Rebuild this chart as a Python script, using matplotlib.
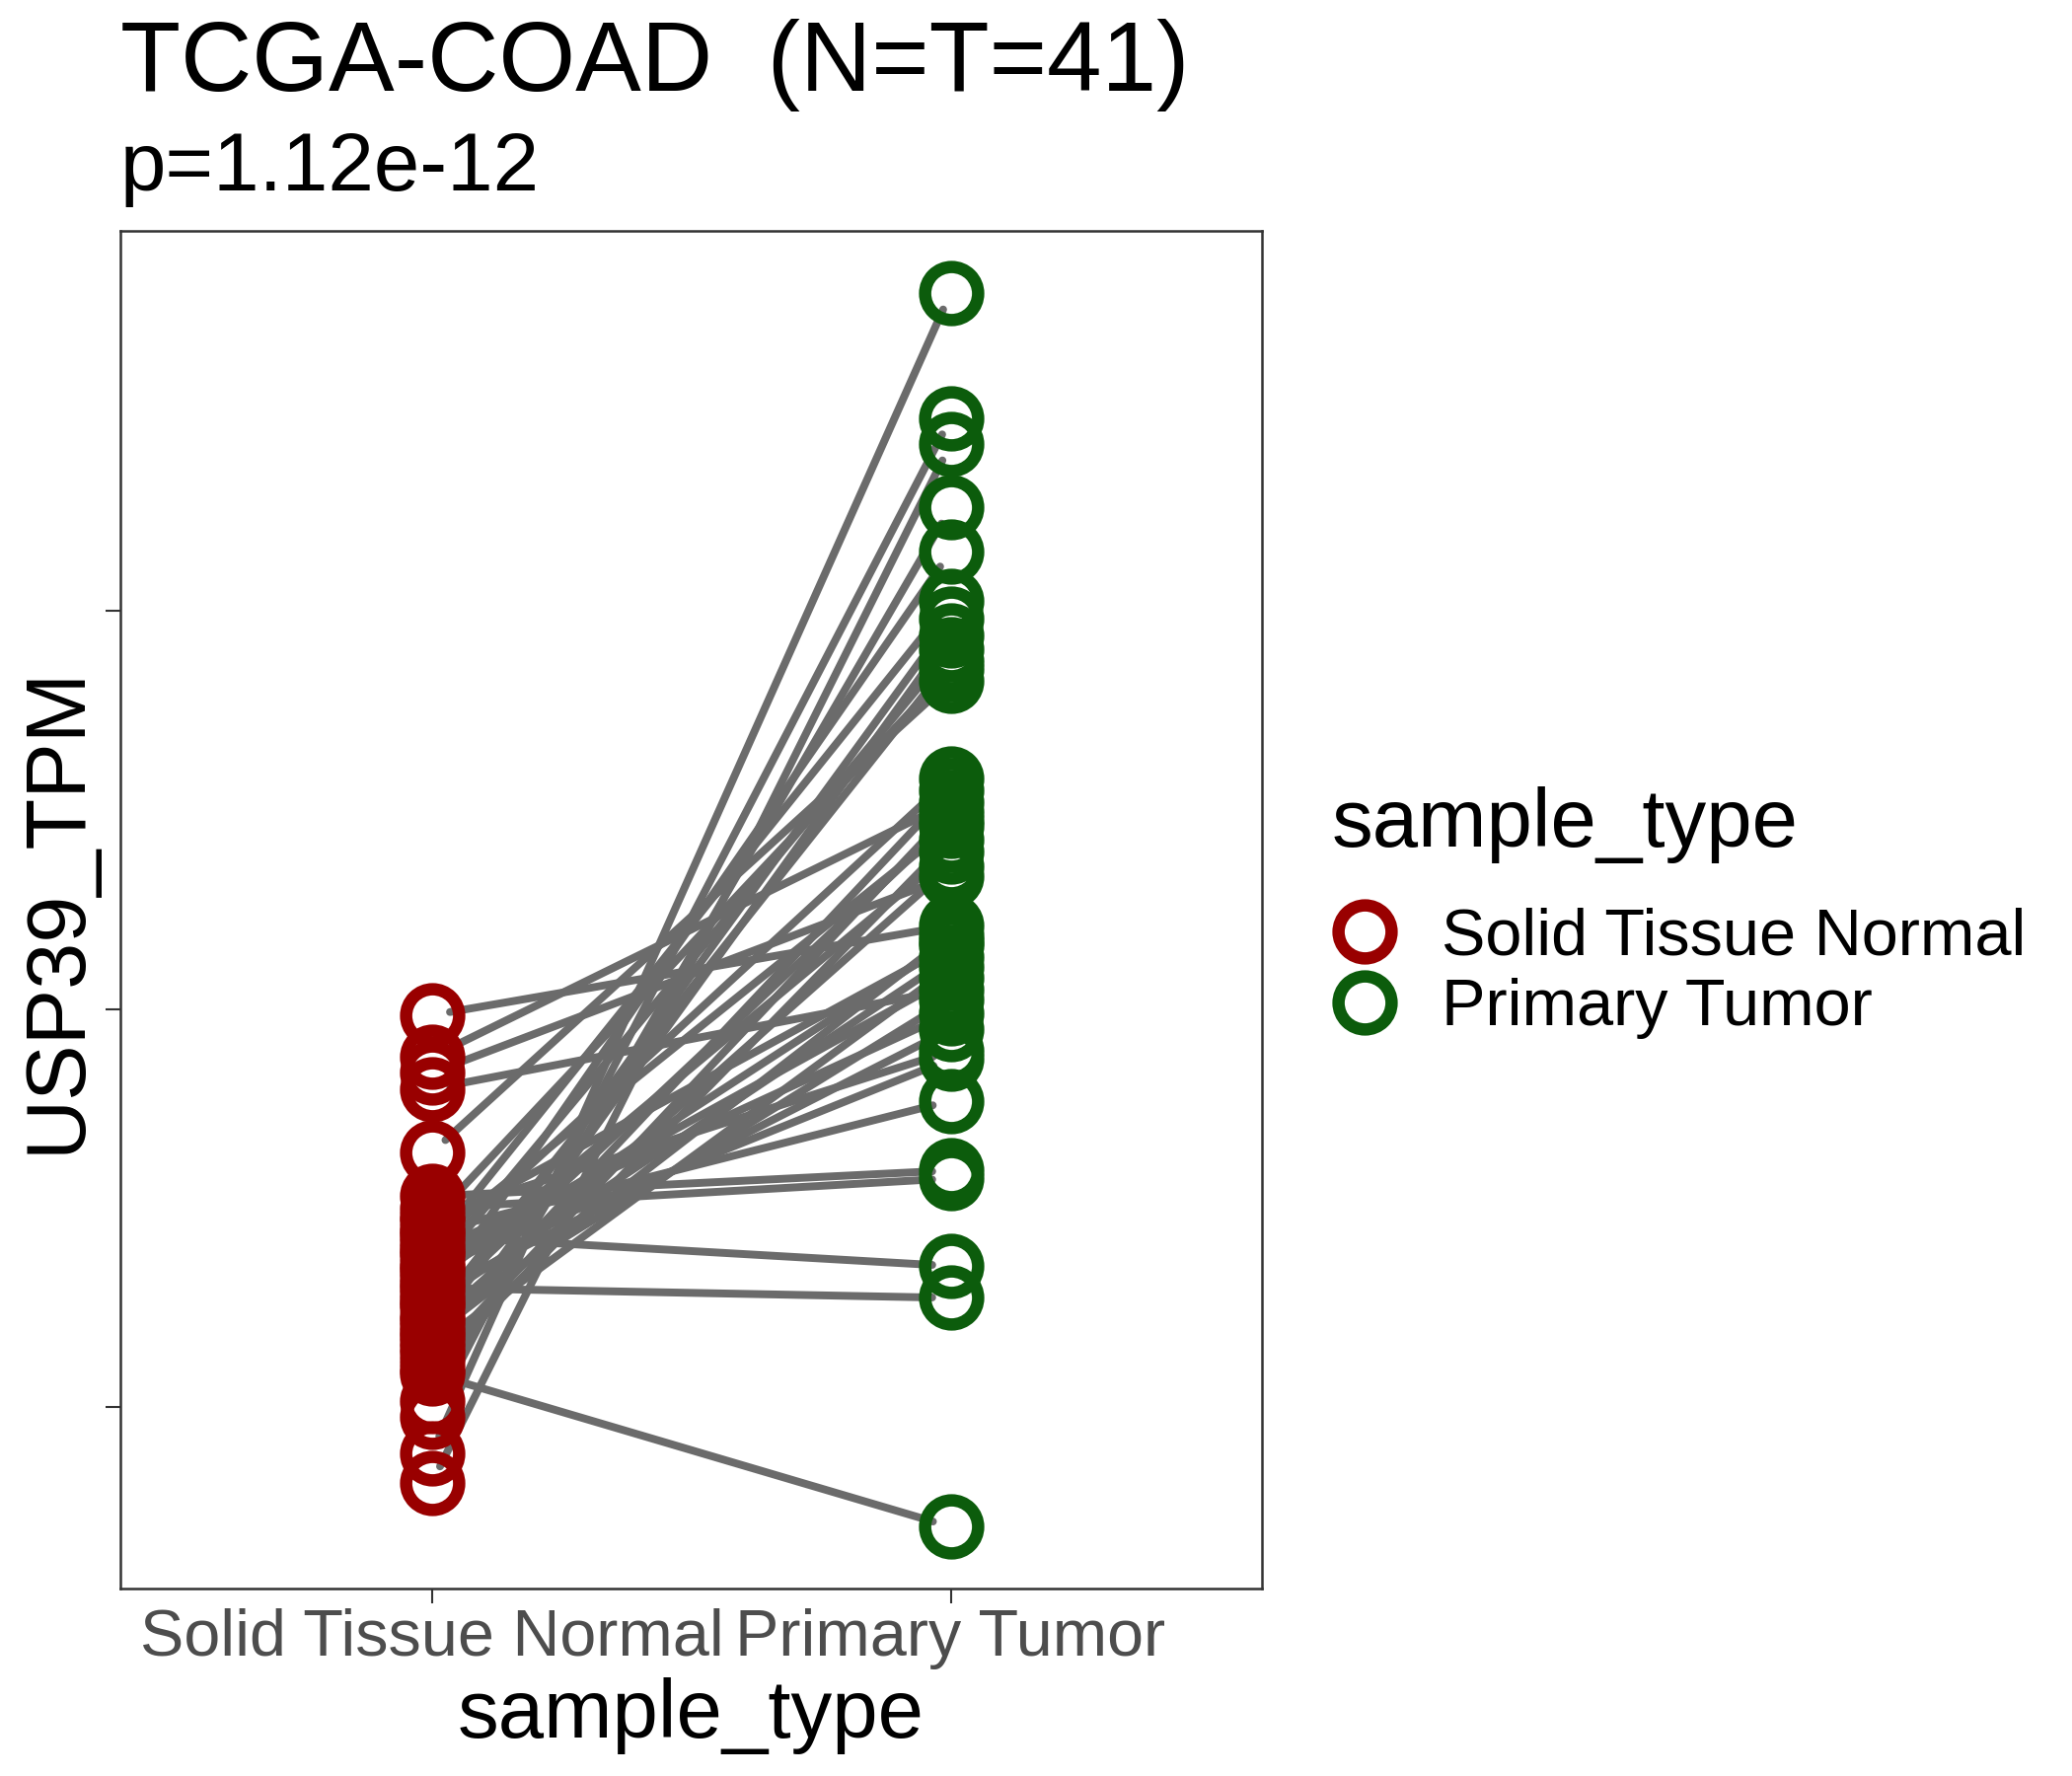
import numpy as np
import matplotlib.pyplot as plt
from matplotlib.lines import Line2D

plt.rcParams['font.family'] = ['Liberation Sans', 'DejaVu Sans']

# data (y axis carries no labels, units are approximate)
groups = ['Solid Tissue Normal', 'Primary Tumor']
group_colors = ['#990000', '#0C5C0C']
line_color = '#6B6B6B'

normal_tpm = [39.7, 37.6, 36.8, 36.0, 32.8, 30.6, 30.0, 29.6, 29.4, 29.0,
              28.8, 28.6, 28.3, 28.0, 27.8, 27.6, 27.2, 27.0, 26.8, 26.5,
              26.2, 26.0, 25.7, 25.4, 25.2, 25.0, 24.6, 24.4, 24.1, 23.8,
              23.6, 23.3, 23.0, 22.7, 22.3, 21.9, 21.7, 20.3, 19.5, 17.7,
              16.2]
tumor_tpm = [44.2, 50.4, 46.7, 41.0, 56.5, 31.9, 31.5, 37.9, 57.1, 43.2,
             35.4, 27.1, 49.2, 60.5, 39.8, 51.6, 41.6, 37.5, 58.1, 43.4,
             47.9, 25.5, 39.0, 63.0, 42.6, 49.5, 57.5, 40.5, 47.2, 59.6,
             43.7, 51.0, 42.1, 58.8, 49.9, 48.5, 14.0, 65.2, 69.7, 76.0,
             68.4]
y_ticks = [20, 40, 60]

title = 'TCGA-COAD  (N=T=41)'
subtitle = 'p=1.12e-12'
y_label = 'USP39_TPM'
x_label = 'sample_type'

fig = plt.figure(figsize=(14, 12), dpi=150)
ax = fig.add_axes([0.0581, 0.1056, 0.5510, 0.7644])

xs = [1, 2]
for n, t in zip(normal_tpm, tumor_tpm):
    ax.annotate('', xy=(xs[1], t), xytext=(xs[0], n),
                arrowprops=dict(arrowstyle='-', color=line_color, lw=3.8,
                                shrinkA=9, shrinkB=9),
                zorder=1)

for x, vals, col, name in zip(xs, [normal_tpm, tumor_tpm], group_colors, groups):
    ax.plot(np.full(len(vals), x), vals, linestyle='none', marker='o',
            ms=25.8, mfc='none', mec=col, mew=6.0, zorder=3, label=name)

all_vals = np.array(normal_tpm + tumor_tpm)
lo, hi = all_vals.min(), all_vals.max()
pad = (hi - lo) * 0.05
ax.set_ylim(lo - pad, hi + pad)
ax.set_xlim(0.4, 2.6)

ax.set_xticks(xs, groups)
ax.set_yticks(y_ticks)
ax.set_yticklabels([])
ax.tick_params(length=7.2, width=1.0, color='#333333')
ax.tick_params(axis='x', labelsize=31.9, labelcolor='#4D4D4D', pad=2.4)
for sp in ax.spines.values():
    sp.set_color('#333333')
    sp.set_linewidth(1.2)

fig.text(0.0581, 1 - 92 / 1800, title, fontsize=48, va='baseline')
fig.text(0.0581, 1 - 193 / 1800, subtitle, fontsize=40, va='baseline')
fig.text(0.3336, 1 - 1761 / 1800, x_label, fontsize=40, ha='center', va='baseline')
fig.text(80 / 2100, 1 - 922 / 1800, y_label, fontsize=40.6, rotation=90,
         rotation_mode='anchor', ha='center', va='baseline')

# legend
fig.text(1350 / 2100, 1 - 858 / 1800, x_label, fontsize=40, va='baseline')
handles = [Line2D([], [], linestyle='none', marker='o', ms=25.8, mfc='none',
                  mec=c, mew=6.0) for c in group_colors]
fig.legend(handles, groups, loc='center left',
           bbox_to_anchor=(1350 / 2100, 1 - 986.5 / 1800),
           frameon=False, fontsize=32, handlelength=1.0, handletextpad=0.66,
           labelspacing=0.14, borderpad=0, borderaxespad=0)

fig.savefig('out.png', dpi=150)
